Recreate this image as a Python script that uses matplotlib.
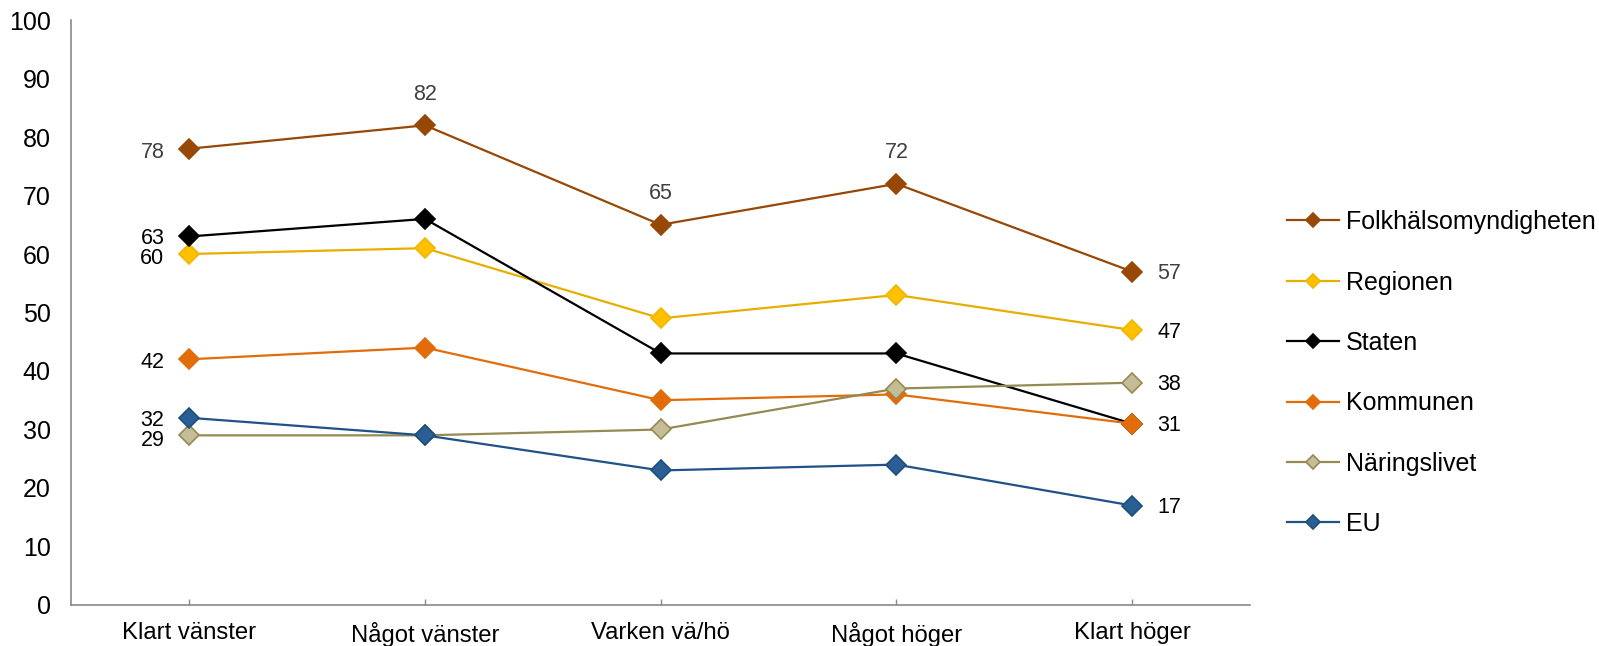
import numpy as np
import matplotlib.pyplot as plt

plt.rcParams['font.family'] = ['Liberation Sans', 'DejaVu Sans']

# Data
categories = ["Klart vänster", "Något vänster", "Varken vä/hö", "Något höger", "Klart höger"]
series_names = ["Folkhälsomyndigheten", "Regionen", "Staten", "Kommunen", "Näringslivet", "EU"]
folkhalsomyndigheten = [78, 82, 65, 72, 57]
regionen = [60, 61, 49, 53, 47]
staten = [63, 66, 43, 43, 31]
kommunen = [42, 44, 35, 36, 31]
naringslivet = [29, 29, 30, 37, 38]
eu = [32, 29, 23, 24, 17]

series_values = [folkhalsomyndigheten, regionen, staten, kommunen, naringslivet, eu]
line_colors = ["#974706", "#E6AF00", "#000000", "#E36C0A", "#948A54", "#1F5288"]
marker_faces = ["#974706", "#FFC000", "#000000", "#E36C0A", "#C4BD97", "#2A5F96"]
marker_edges = ["#974706", "#F0B800", "#000000", "#E36C0A", "#948A54", "#1F4E79"]

LBL = 15.5   # data labels
HALF = 0.716 * LBL / 2  # half cap height, for centring digits on a point

fig = plt.figure(figsize=(15.99, 6.46), dpi=100)
ax = fig.add_axes([0.0447, 0.0635, 0.737, 0.9055])

x = np.arange(len(categories))
for i, (name, vals) in enumerate(zip(series_names, series_values)):
    ax.plot(x, vals, color=line_colors[i], lw=1.6, marker='D', ms=10,
            mfc=marker_faces[i], mec=marker_edges[i], mew=1.2, label=name,
            zorder=3 + i)

# small vertical nudge where first-point labels crowd each other
nudge_first = {"Staten": 1.0, "Regionen": -1.0, "EU": 1.0, "Näringslivet": -1.0}

# Data labels
for i, vals in enumerate(series_values):
    col = "#404040" if i == 0 else "#000000"
    dy = nudge_first.get(series_names[i], 0)
    ax.annotate(str(vals[0]), (x[0], vals[0]), xytext=(-18, -HALF - 1 + dy),
                textcoords='offset points', ha='right', va='baseline',
                fontsize=LBL, color=col)
    if series_names[i] != "Staten":
        ax.annotate(str(vals[-1]), (x[-1], vals[-1]), xytext=(18, -HALF),
                    textcoords='offset points', ha='left', va='baseline',
                    fontsize=LBL, color=col)
for j in range(1, 4):
    ax.annotate(str(folkhalsomyndigheten[j]), (x[j], folkhalsomyndigheten[j]),
                xytext=(0, 24 - HALF), textcoords='offset points', ha='center',
                va='baseline', fontsize=LBL, color="#404040")

ax.set_xlim(-0.5, len(categories) - 0.5)
ax.set_ylim(0, 100)
ax.set_yticks(np.arange(0, 101, 10))
ax.set_xticks(x)
ax.set_xticklabels(categories)
ax.tick_params(axis='y', length=0, pad=15, labelsize=18)
ax.tick_params(axis='x', direction='in', length=4, width=1, color="#898989",
               pad=12.5, labelsize=17.2)
for s in ['top', 'right']:
    ax.spines[s].set_visible(False)
for s in ['left', 'bottom']:
    ax.spines[s].set_color("#898989")
    ax.spines[s].set_linewidth(1.2)

leg = fig.legend(loc='upper left', bbox_to_anchor=(0.7905, 0.7095), frameon=False,
                 fontsize=18, labelspacing=1.455, handlelength=2.08,
                 handletextpad=0.28, markerscale=0.72)

fig.savefig("out.png", dpi=100)
